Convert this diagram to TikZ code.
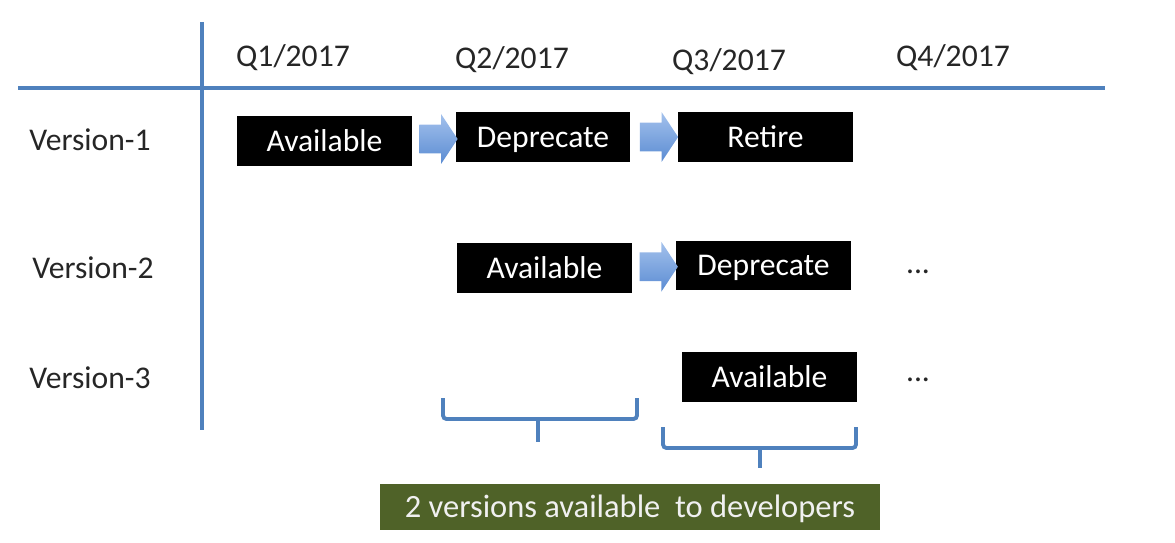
\documentclass[tikz,border=0pt]{standalone}
\usepackage{fontspec}
\setmainfont{Carlito}
\usetikzlibrary{shapes.arrows,calc}
\definecolor{lineblue}{HTML}{4F81BD}
\definecolor{arrowtop}{HTML}{A3C1EC}
\definecolor{arrowbot}{HTML}{5B8CD3}
\definecolor{devgreen}{HTML}{4F6228}

\begin{document}
\begin{tikzpicture}[x=0.02cm,y=-0.02cm,
  label/.style={font=\fontsize{18}{22}\selectfont,text=black!85},
  state/.style={fill=black,text=white,minimum width=3.5cm,minimum height=1cm,inner sep=0pt,text height=14pt,text depth=2.4pt,font=\fontsize{18}{22}\selectfont},
  nextarrow/.style={single arrow,top color=arrowtop,bottom color=arrowbot,draw=none,inner sep=0.28cm,minimum height=0.64cm,single arrow head extend=0.21cm,single arrow tip angle=113},
  bracket/.style={draw=lineblue,line width=2.2pt,rounded corners=2pt}]
\useasboundingbox (0,0) rectangle (1175,543);
% grid lines
\coordinate (vtop) at (202,22);
\coordinate (vbot) at (202,430);
\coordinate (hleft) at (18,88);
\coordinate (hright) at (1105,88);
\draw[lineblue,line width=2.2pt] (vtop) -- (vbot);
\draw[lineblue,line width=2.2pt] (hleft) -- (hright);
% quarters
\node[label] (q1) at (293,58) {Q1/2017};
\node[label] (q2) at (512,60) {Q2/2017};
\node[label] (q3) at (729,62) {Q3/2017};
\node[label] (q4) at (953,58) {Q4/2017};
% versions
\node[label] (v1) at (90,140) {Version-1};
\node[label] (v2) at (93,268) {Version-2};
\node[label] (v3) at (90,378) {Version-3};
% states
\node[state] (av1) at (324.5,141) {Available};
\node[state] (dep1) at (543,137) {Deprecate};
\node[state] (ret1) at (765.5,137) {Retire};
\node[state] (av2) at (544.5,268) {Available};
\node[state] (dep2) at (763.5,265.5) {Deprecate};
\node[state] (av3) at (769.5,377) {Available};
\node[label] (dots2) at (918,272) {...};
\node[label] (dots3) at (918,380) {...};
% transitions
\node[nextarrow] (a1) at ($(av1.east)!0.5!(dep1.west)$) {};
\node[nextarrow] (a2) at ($(dep1.east)!0.5!(ret1.west)$) {};
\node[nextarrow] (a3) at ($(av2.east)!0.5!(dep2.west)$) {};
% brackets
\draw[bracket] (443,398) -- (443,419) -- (637,419) -- (637,398);
\draw[bracket] (538,419) -- (538,442);
\draw[bracket] (663,427) -- (663,448) -- (856,448) -- (856,427);
\draw[bracket] (760,448) -- (760,468);
\node[fill=devgreen,text=white!94!black,minimum width=10cm,minimum height=0.92cm,inner sep=0pt,text height=14pt,text depth=2.4pt,font=\fontsize{18.5}{22}\selectfont] (dev) at (630,507) {2 versions available \ to developers};
\end{tikzpicture}
\end{document}
